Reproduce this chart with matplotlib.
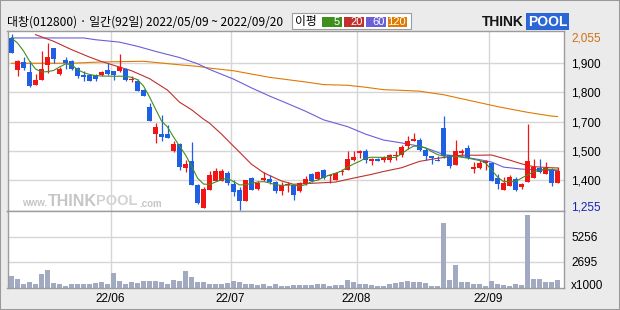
import numpy as np
import matplotlib
matplotlib.use("Agg")
import matplotlib.pyplot as plt
from matplotlib.patches import Rectangle

# daily candles, 2022/05/09 ~ 2022/09/20 (92 trading days)
opens = [2037, 1893, 1928, 1882, 1825, 1847, 1915, 1991, 1873, 1937,
         1931, 1900, 1870, 1870, 1867, 1870, 1893, 1885, 1885, 1896,
         1846, 1840, 1800, 1722, 1600, 1600, 1600, 1522, 1555, 1446,
         1476, 1370, 1264, 1347, 1388, 1388, 1423, 1373, 1347, 1297,
         1400, 1352, 1391, 1396, 1382, 1340, 1367, 1370, 1340, 1373,
         1419, 1396, 1435, 1408, 1393, 1428, 1438, 1484, 1516, 1522,
         1476, 1488, 1484, 1484, 1499, 1504, 1545, 1567, 1573, 1529,
         1499, 1484, 1628, 1504, 1461, 1514, 1537, 1443, 1445, 1467,
         1467, 1399, 1346, 1366, 1395, 1361, 1384, 1399, 1447, 1417,
         1441, 1376]
highs = [2055, 1938, 1949, 1931, 1873, 1979, 2014, 1991, 1905, 1949,
         1937, 1904, 1885, 1873, 1873, 1888, 1923, 1888, 1964, 1900,
         1863, 1852, 1805, 1741, 1650, 1685, 1640, 1567, 1560, 1484,
         1563, 1372, 1358, 1431, 1446, 1440, 1434, 1393, 1358, 1393,
         1403, 1388, 1428, 1416, 1385, 1382, 1382, 1373, 1382, 1408,
         1423, 1431, 1441, 1419, 1428, 1443, 1522, 1522, 1529, 1532,
         1491, 1491, 1499, 1510, 1522, 1552, 1590, 1605, 1582, 1537,
         1499, 1499, 1681, 1506, 1572, 1532, 1552, 1472, 1482, 1482,
         1470, 1419, 1406, 1414, 1406, 1376, 1646, 1487, 1485, 1475,
         1445, 1452]
lows = [1967, 1863, 1893, 1814, 1825, 1847, 1878, 1923, 1870, 1897,
        1891, 1855, 1843, 1840, 1840, 1863, 1870, 1847, 1882, 1843,
        1837, 1795, 1772, 1661, 1559, 1570, 1582, 1519, 1438, 1428,
        1367, 1282, 1264, 1347, 1388, 1385, 1370, 1317, 1255, 1297,
        1345, 1347, 1385, 1373, 1332, 1325, 1337, 1302, 1337, 1367,
        1382, 1393, 1396, 1378, 1390, 1416, 1438, 1476, 1491, 1469,
        1461, 1476, 1473, 1473, 1484, 1495, 1534, 1567, 1525, 1484,
        1464, 1476, 1491, 1446, 1461, 1506, 1488, 1423, 1441, 1437,
        1387, 1349, 1346, 1366, 1341, 1349, 1384, 1399, 1422, 1417,
        1366, 1376]
closes = [1967, 1931, 1900, 1820, 1847, 1896, 1950, 1943, 1896, 1922,
          1897, 1863, 1858, 1843, 1850, 1882, 1875, 1867, 1905, 1847,
          1852, 1797, 1775, 1661, 1631, 1585, 1582, 1555, 1449, 1464,
          1367, 1285, 1350, 1416, 1434, 1434, 1378, 1337, 1297, 1390,
          1347, 1378, 1400, 1381, 1340, 1370, 1373, 1325, 1378, 1397,
          1388, 1428, 1400, 1416, 1423, 1434, 1487, 1497, 1525, 1484,
          1487, 1479, 1491, 1506, 1506, 1541, 1567, 1578, 1529, 1502,
          1491, 1479, 1499, 1454, 1522, 1522, 1491, 1452, 1470, 1478,
          1387, 1372, 1376, 1406, 1346, 1372, 1478, 1452, 1429, 1445,
          1376, 1432]
# volume, thousands of shares
volumes = [1265, 958, 445, 650, 445, 1470, 1880, 513, 445, 240,
           445, 445, 445, 445, 547, 650, 376, 1573, 684, 445,
           650, 479, 752, 718, 752, 581, 445, 855, 752, 1778,
           1163, 650, 581, 445, 376, 445, 479, 684, 581, 376,
           445, 308, 445, 240, 376, 240, 205, 342, 342, 342,
           342, 445, 376, 240, 342, 274, 855, 650, 445, 445,
           342, 240, 240, 376, 513, 650, 752, 581, 581, 479,
           240, 240, 6700, 855, 2394, 650, 650, 445, 445, 240,
           752, 445, 342, 240, 445, 342, 7524, 958, 958, 581,
           650, 855]

# moving averages (day index, value)
ma5_day = [0, 1, 2, 3, 4, 5, 6, 7, 8, 9, 10, 11, 12, 13, 14, 15, 17, 19, 20,
           21, 22, 23, 24, 25, 26, 27, 28, 29, 30, 31, 32, 33, 34, 35, 36, 37,
           38, 39, 41, 42, 43, 44, 45, 47, 48, 49, 50, 51, 52, 53, 54, 55, 56,
           57, 58, 59, 60, 62, 64, 65, 66, 67, 68, 69, 70, 71, 72, 74, 76, 78,
           79, 80, 81, 82, 84, 85, 87, 89, 91]
ma5_val = [2037, 2014, 1978, 1932, 1896, 1882, 1884, 1889, 1905, 1919, 1916,
           1893, 1880, 1871, 1866, 1864, 1863, 1863, 1858, 1847, 1819, 1769,
           1714, 1660, 1632, 1587, 1546, 1505, 1455, 1400, 1373, 1371, 1382,
           1393, 1400, 1384, 1369, 1370, 1382, 1384, 1378, 1370, 1367, 1369,
           1363, 1370, 1384, 1391, 1403, 1414, 1422, 1432, 1450, 1464, 1476,
           1491, 1495, 1494, 1494, 1510, 1530, 1545, 1545, 1538, 1521, 1507,
           1500, 1499, 1491, 1480, 1469, 1437, 1405, 1384, 1384, 1400, 1429,
           1441, 1437]
ma20_day = [4, 7, 10, 13, 15, 20, 23, 26, 28, 30, 32, 33, 35, 37, 38, 40, 42,
            43, 45, 47, 54, 57, 60, 62, 65, 68, 71, 75, 78, 80, 83, 85, 87,
            90, 91]
ma20_val = [2052, 2022, 1984, 1950, 1930, 1888, 1852, 1800, 1745, 1711, 1668,
            1650, 1600, 1545, 1518, 1463, 1425, 1412, 1387, 1372, 1382, 1400,
            1417, 1430, 1447, 1476, 1490, 1504, 1504, 1505, 1482, 1465, 1452,
            1447, 1446]
ma60_day = [0, 12, 14, 18, 21, 24, 28, 31, 33, 37, 40, 43, 46, 49, 52, 56,
            59, 62, 65, 68, 70, 72, 75, 78, 80, 82, 85, 91]
ma60_val = [2037, 2037, 2029, 2018, 1999, 1976, 1948, 1920, 1894, 1850, 1810,
            1773, 1739, 1704, 1665, 1634, 1600, 1573, 1560, 1545, 1528, 1507,
            1498, 1484, 1473, 1450, 1441, 1434]
ma120_day = [0, 10, 15, 22, 25, 28, 31, 33, 37, 40, 43, 47, 49, 52, 56, 59,
             62, 65, 68, 72, 75, 78, 81, 86, 90, 91]
ma120_val = [1922, 1922, 1928, 1931, 1923, 1915, 1908, 1900, 1888, 1873, 1858,
             1844, 1837, 1825, 1822, 1813, 1802, 1799, 1795, 1779, 1761, 1743,
             1725, 1699, 1682, 1680]

month_start = [17, 37, 58, 80]
month_labels = ["22/06", "22/07", "22/08", "22/09"]
price_grid = [1925, 1791, 1657, 1523, 1390]
price_grid_labels = ["1,900", "1,800", "1,700", "1,500", "1,400"]
vol_grid = [2695, 5256]

W, H = 620, 310
BG = "#ebebeb"
EDGE = "#9c9c9c"
GRID = "#d6d6d6"
UP, DOWN = "#f01616", "#1f5fe3"
C5, C20, C60, C120 = "#3f8f1f", "#c0302c", "#6b5fd9", "#e07a00"
NUM = ["Liberation Sans", "DejaVu Sans"]
KR = ["Noto Sans CJK KR", "DejaVu Sans"]


def fx(x):
    return x / W


def fy(y):
    return 1 - y / H


fig = plt.figure(figsize=(W / 100, H / 100), dpi=100, facecolor=BG)
ax = fig.add_axes([fx(7.5), fy(211), (563.5 - 7.5) / W, 180 / H])
axv = fig.add_axes([fx(7.5), fy(288), (563.5 - 7.5) / W, 77 / H])

o = np.array(opens, float)
c = np.array(closes, float)
hi = np.array(highs, float)
lo = np.array(lows, float)
days = np.arange(len(o))
colors = np.where(c >= o, UP, DOWN)

for a in (ax, axv):
    a.set_facecolor("white")
    a.set_xlim(-0.667, 92.0)
    for s in a.spines.values():
        s.set_color(EDGE)
        s.set_linewidth(1.0)
    for m in month_start:
        a.axvline(m - 0.5, color=GRID, lw=1.0, zorder=0)

# price panel
ax.set_ylim(1250.5, 2068.6)
for g in price_grid:
    ax.axhline(g, color=GRID, lw=1.0, zorder=0)

# watermark
wm = "#c6c6c6"
fig.text(fx(22), fy(203.5), "www.", family=NUM, fontsize=7, weight="bold",
         color=wm, va="center")
fig.text(fx(48), fy(201), "THINK", family=NUM, fontsize=11.5,
         weight="bold", color=wm, va="center")
fig.text(fx(96), fy(201), "POOL", family=NUM, fontsize=10.5,
         weight="bold", color="#d2d2d2", va="center")
fig.text(fx(139), fy(204), ".com", family=NUM, fontsize=7, weight="bold",
         color=wm, va="center")

ax.vlines(days, lo, hi, colors=colors, lw=0.9, zorder=3)
body = np.maximum(np.abs(c - o), 4.5)
ax.bar(days, body, bottom=np.minimum(o, c), width=0.75, color=colors,
       linewidth=0, zorder=4)
ax.plot(ma120_day, ma120_val, color=C120, lw=0.8, zorder=2)
ax.plot(ma60_day, ma60_val, color=C60, lw=0.8, zorder=2)
ax.plot(ma20_day, ma20_val, color=C20, lw=0.8, zorder=2)
ax.plot(ma5_day, ma5_val, color=C5, lw=0.8, zorder=5)

ax.set_xticks([])
ax.yaxis.tick_right()
ax.set_yticks(price_grid)
ax.set_yticklabels(price_grid_labels, family=NUM, fontsize=8.5)
ax.tick_params(axis="y", length=0, pad=5.4)
ax.annotate("2,055", xy=(1, 2055), xycoords=("axes fraction", "data"),
            xytext=(5.4, -3.6), textcoords="offset points", va="center",
            ha="left", family=NUM, fontsize=8.5, color="#d07010",
            annotation_clip=False)
ax.annotate("1,255", xy=(1, 1255), xycoords=("axes fraction", "data"),
            xytext=(5.4, 1.5), textcoords="offset points", va="center",
            ha="left", family=NUM, fontsize=8.5, color="#1a22b8",
            annotation_clip=False)

# volume panel
axv.set_ylim(0, 7892)
for g in vol_grid:
    axv.axhline(g, color=GRID, lw=1.0, zorder=0)
axv.bar(days, volumes, width=0.75, color="#a2aac2", linewidth=0, zorder=2)
axv.yaxis.tick_right()
axv.set_yticks(vol_grid)
axv.set_yticklabels([str(v) for v in vol_grid], family=NUM, fontsize=8.5)
axv.tick_params(axis="y", length=0, pad=5.4)
axv.annotate("x1000", xy=(1, 0), xycoords="axes fraction",
             xytext=(5.4, 1.5), textcoords="offset points", va="center",
             ha="left", family=NUM, fontsize=8.5, annotation_clip=False)
axv.set_xticks([m - 0.5 for m in month_start])
axv.set_xticklabels(month_labels, family=NUM, fontsize=8.5)
axv.tick_params(axis="x", length=0, pad=3.5)

# header
fig.text(fx(7), fy(22), "대창(012800) · 일간(92일) 2022/05/09 ~ 2022/09/20",
         family=KR, fontsize=8.6, va="center", ha="left")
fig.add_artist(Rectangle((fx(292), fy(29)), 119 / W, 16.3 / H,
                         transform=fig.transFigure, facecolor="white",
                         edgecolor=EDGE, lw=0.8))
fig.text(fx(295), fy(21), "이평", family=KR, fontsize=8.5, va="center")
cells = [(322, 341.7, "5", C5), (343.7, 364, "20", C20),
         (365.7, 386, "60", C60), (387.7, 407.3, "120", C120)]
for x0, x1, lab, col in cells:
    fig.add_artist(Rectangle((fx(x0), fy(26.7)), (x1 - x0) / W, 10 / H,
                             transform=fig.transFigure, facecolor=col,
                             edgecolor="none"))
    fig.text(fx(x1 - 1.5), fy(21.6), lab, family=NUM, fontsize=8,
             color="white", ha="right", va="center")

# THINKPOOL logo
fig.text(fx(482), fy(21.5), "THINK", family=NUM, fontsize=10,
         weight="bold", color="#151515", va="center")
fig.text(fx(528), fy(21.5), "POOL", family=NUM, fontsize=10,
         weight="bold", color="white", va="center",
         bbox=dict(boxstyle="square,pad=0.12", fc="#2a66d6", ec="none"))

# outer frame
fig.add_artist(Rectangle((0, 0), 1, 1, transform=fig.transFigure,
                         facecolor="none", edgecolor="#9a9a9a", lw=1.5))

fig.savefig("out.png", dpi=100, facecolor=BG)
